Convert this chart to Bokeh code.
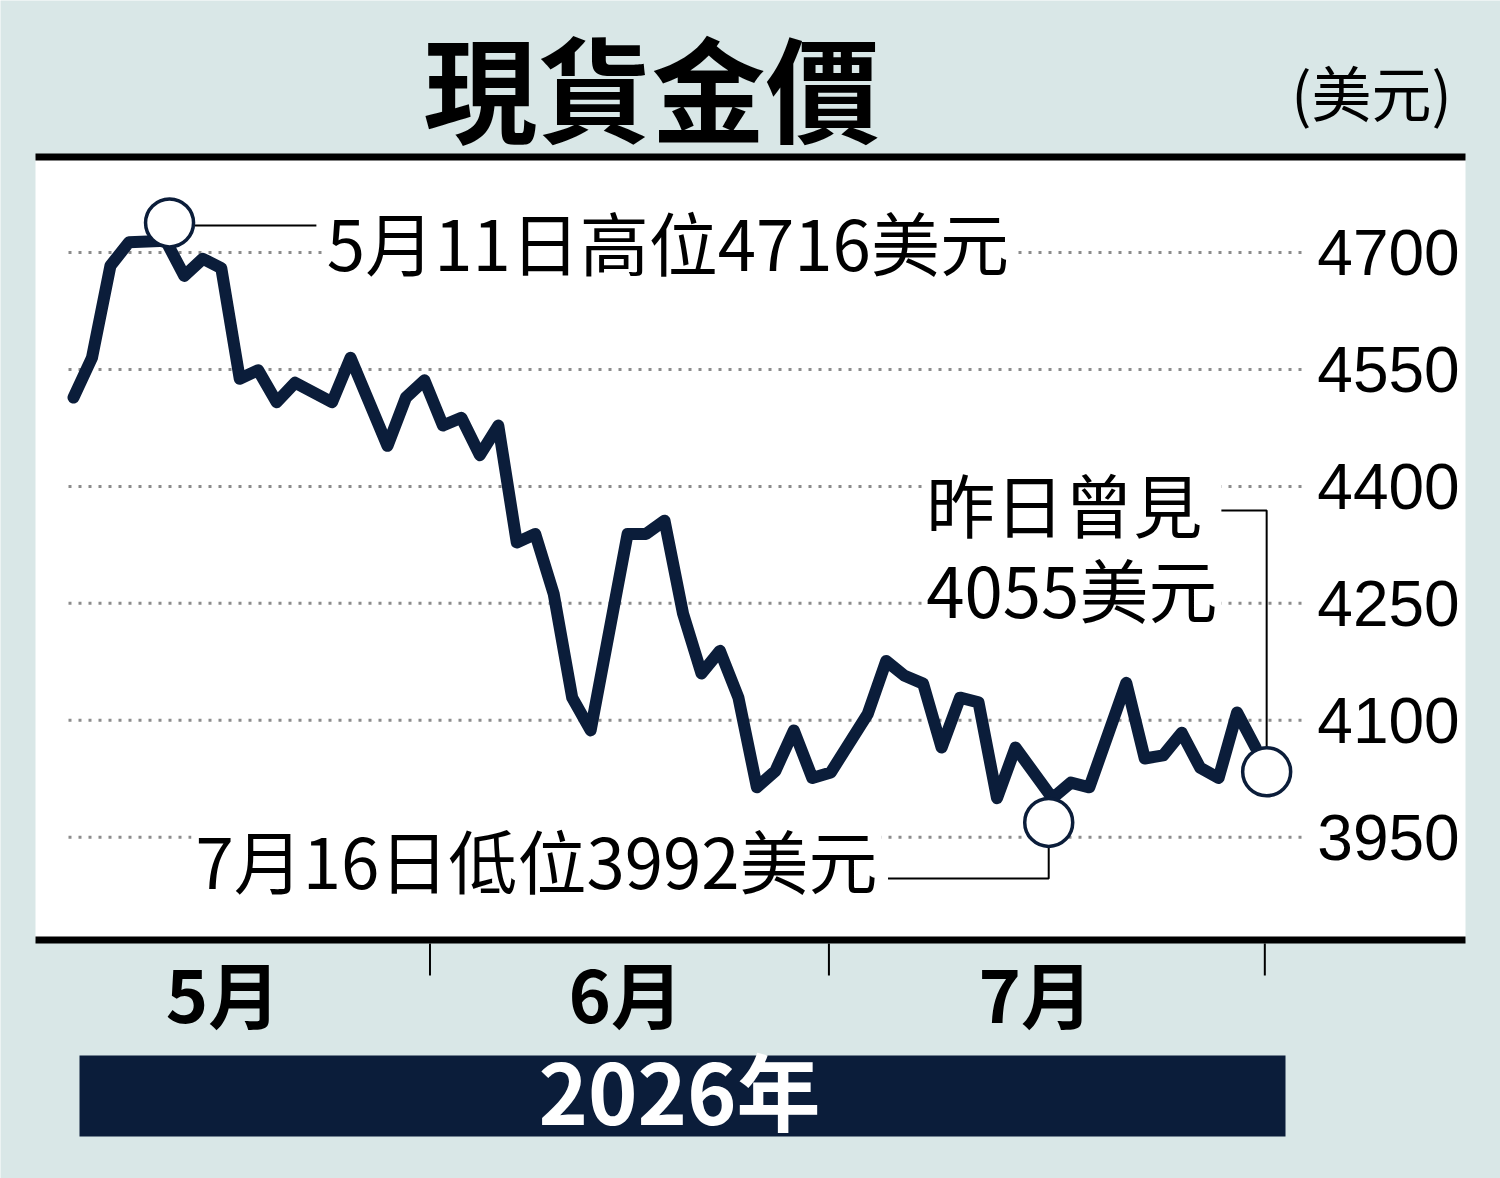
from bokeh.plotting import figure
from bokeh.models import Label, Range1d
from bokeh.embed import file_html
from bokeh.resources import INLINE
from bokeh.core.properties import value

# ---------------- data ----------------
title_text = "現貨金價"
unit_text = "(美元)"
year_text = "2026年"
months = ["5月", "6月", "7月"]

# trading-day index (weekdays from early May) and spot gold price (USD)
day_index = [0, 1, 2, 3, 5, 6, 7, 8, 9, 10, 11, 12, 14, 15, 17, 18, 19, 20,
             21, 22, 23, 24, 25, 26, 27, 28, 30, 31, 32, 33, 34, 35, 36, 37,
             38, 39, 40, 41, 43, 44, 45, 46, 47, 48, 49, 50, 51, 53, 54, 55,
             57, 58, 59, 60, 61, 62, 63, 64]
price = [4514, 4565, 4683, 4713, 4715, 4670, 4692, 4680, 4538, 4549, 4508,
         4533, 4508, 4565, 4452, 4514, 4536, 4478, 4488, 4440, 4478, 4328,
         4339, 4262, 4129, 4087, 4339, 4339, 4356, 4237, 4160, 4189, 4129,
         4014, 4035, 4087, 4026, 4033, 4108, 4176, 4157, 4147, 4065, 4129,
         4123, 4000, 4065, 4000, 4020, 4014, 4148, 4051, 4055, 4084, 4039,
         4026, 4110, 4065]

y_ticks = [4700, 4550, 4400, 4250, 4100, 3950]
month_bounds = [19.3, 40.9, 64.5]      # month boundary ticks (day index)
month_centers = [8.1, 29.9, 52.1]      # month label positions (day index)

high_note = "5月11日高位4716美元"
low_note = "7月16日低位3992美元"
last_note = "昨日曾見\n4055美元"
marker_x = [5.2, 52.8, 64.6]
marker_y = [4738, 3969, 4034]

# ---------------- style / layout ----------------
BG = "#d9e7e7"
NAVY = "#0b1d3a"
CJK = "Noto Sans CJK TC"
NUM = "Liberation Sans"
W, H = 1500, 1178

# pixel <-> data mapping of the chart panel (index 0 at x=73 px, 18.47 px/day;
# 4700 at y=252 px, 1.2827 USD/px)
PX0, PXS = 73.0, 18.47
PY0, PYS = 252.0, 1.2827


def dx(px):
    return (px - PX0) / PXS


def dy(py):
    return y_ticks[0] - (py - PY0) * PYS


p = figure(width=W, height=H,
           x_range=Range1d(dx(0), dx(W)), y_range=Range1d(dy(H), dy(0)),
           output_backend="svg", toolbar_location=None,
           x_axis_location=None, y_axis_location=None, min_border=0)
p.background_fill_color = BG
p.border_fill_color = BG
p.outline_line_color = None
p.xgrid.visible = False
p.ygrid.visible = False

# white chart panel and its black top / bottom rules
p.quad(left=[dx(35)], right=[dx(1465)], top=[dy(157)], bottom=[dy(940)],
       fill_color="white", line_color=None)
p.quad(left=[dx(35)], right=[dx(1465)], top=[dy(153)], bottom=[dy(160)],
       fill_color="black", line_color=None)
p.quad(left=[dx(35)], right=[dx(1465)], top=[dy(936)], bottom=[dy(943)],
       fill_color="black", line_color=None)

# month boundary ticks and month labels
p.segment(x0=month_bounds, x1=month_bounds,
          y0=[dy(943)] * len(month_bounds), y1=[dy(975)] * len(month_bounds),
          line_color="black", line_width=2)
p.text(x=month_centers, y=[dy(991)] * len(months), text=months,
       text_align="center", text_baseline="middle", text_font=value(CJK),
       text_font_style="bold", text_font_size="72px", text_color="black")

# dotted grid lines
p.segment(x0=[dx(68)] * len(y_ticks), x1=[dx(1305)] * len(y_ticks),
          y0=y_ticks, y1=y_ticks, line_color="#8c8c8c", line_width=3,
          line_dash="3 7")

# price line
p.line(day_index, price, line_width=12, line_color=NAVY,
       line_join="round", line_cap="round")

# connectors
p.line([6.56, 13.15], [4734.6, 4734.6], line_color="black", line_width=2)
p.line([52.8, 52.8, 44.1], [3937, 3897, 3897], line_color="black", line_width=2)
p.line([64.6, 64.6, 61.8], [4065, 4369, 4369], line_color="black", line_width=2)

# circles
p.scatter(marker_x, marker_y, size=48, marker="circle", fill_color="white",
          line_color=NAVY, line_width=3.5)


def note(x, y, text, align, lh=1.2):
    p.add_layout(Label(x=x, y=y, text=text, text_align=align,
                       text_baseline="middle", text_font=CJK,
                       text_font_size="69px", text_color="black",
                       text_line_height=lh,
                       background_fill_color="white", padding=4))


note(13.5, 4715, high_note, "left")
note(43.75, 3922, low_note, "right")
note(45.95, 4324, last_note, "left", 0.85)

# y tick labels (inside white panel, on the right)
for t in y_ticks:
    p.add_layout(Label(x=dx(1388), y=t, text=str(t),
                       text_align="center", text_baseline="middle",
                       text_font=NUM, text_font_size="64px",
                       text_color="black"))

# header (kept fully inside the canvas)
p.add_layout(Label(x=dx(651), y=dy(84), text=title_text, text_align="center",
                   text_baseline="middle", text_font=CJK,
                   text_font_style="bold", text_font_size="114px",
                   text_color="black"))
p.add_layout(Label(x=dx(1371), y=dy(90), text=unit_text, text_align="center",
                   text_baseline="middle", text_font=CJK,
                   text_font_size="60px", text_color="black"))

# footer year bar
p.quad(left=[dx(79)], right=[dx(1285)], top=[dy(1055)], bottom=[dy(1136)],
       fill_color=NAVY, line_color=None)
p.add_layout(Label(x=dx(679), y=dy(1088), text=year_text, text_align="center",
                   text_baseline="middle", text_font=CJK,
                   text_font_style="bold", text_font_size="84px",
                   text_color="white"))

open("out.html", "w").write(file_html(p, INLINE))
